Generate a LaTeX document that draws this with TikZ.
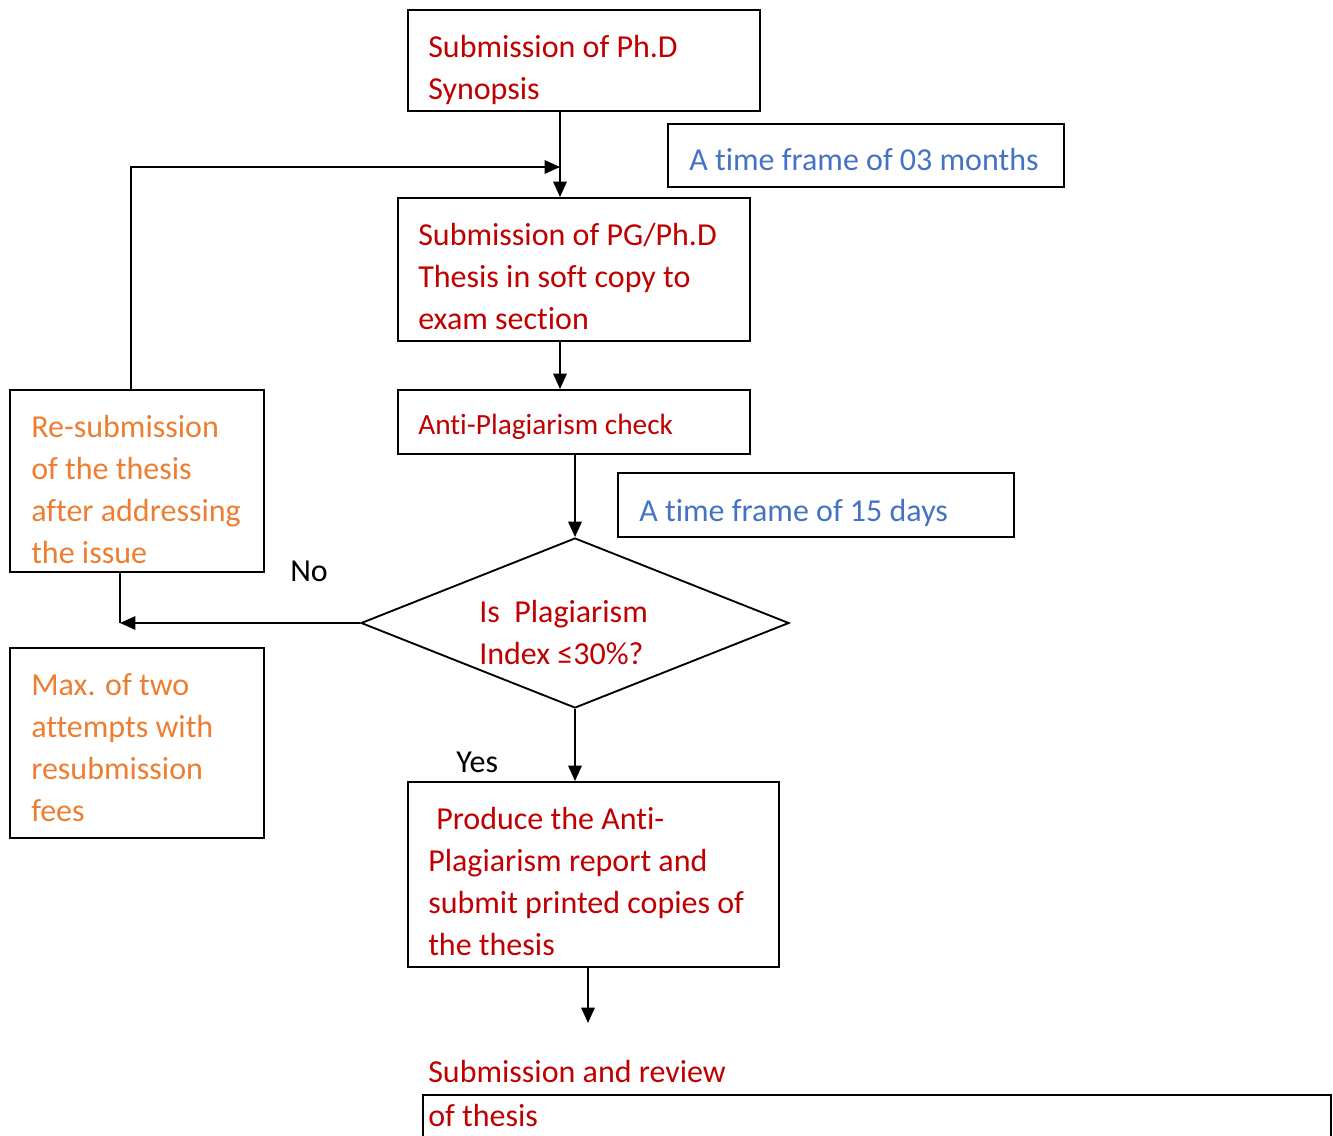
\documentclass[tikz,border=0pt]{standalone}
\usepackage{fontspec}
\setmainfont{Carlito}[RawFeature=-liga,RawFeature=-clig,RawFeature=-calt,RawFeature=-dlig]
\usetikzlibrary{arrows.meta,shapes.geometric,fit}
\definecolor{dred}{HTML}{C00000}
\definecolor{dblue}{HTML}{4472C4}
\definecolor{dorange}{HTML}{ED7D31}
\tikzset{
  box/.style={draw, line width=1.4pt, inner sep=0pt, rectangle},
  txt/.style={anchor=north west, inner sep=0pt, align=left, font=\fontsize{24}{31.5}\selectfont},
  arr/.style={line width=1.4pt, -{Triangle[length=11.5pt,width=10pt]}},
  plain/.style={line width=1.4pt},
}
\begin{document}
\begin{tikzpicture}[x=0.75pt,y=-0.75pt]
\useasboundingbox (0,0) rectangle (1333,1135);
\clip (0,0) rectangle (1333,1135);
% boxes
\node[box, fit={(408,10)(760,111)}] (b1) {};
\node[box, fit={(668,124)(1064,187)}] (bm) {};
\node[box, fit={(398,198)(750,341)}] (b2) {};
\node[box, fit={(398,390)(750,454)}] (b3) {};
\node[box, fit={(618,473)(1014,537)}] (bd) {};
\node[box, fit={(10,390)(264,572)}] (lb) {};
\node[box, fit={(10,648)(264,838)}] (mb) {};
\node[box, fit={(408,782)(779,967)}] (pb) {};
\node[box, fit={(423,1095)(1331,1160)}] (fb) {};
\node[draw, line width=1.4pt, diamond, inner sep=0pt, minimum width=321pt, minimum height=127.5pt] (d) at (575,623) {};
% texts (north = baseline - 29.4)
\node[txt, text=dred] (t1) at (428,28.1) {\strut Submission of Ph.D\\\strut Synopsis};
\node[txt, text=dblue] (tm) at (689,140.6) {\strut A time frame of 03 months};
\node[txt, text=dred] (t2) at (418,215.6) {\strut Submission of PG/Ph.D\\\strut Thesis in soft copy to\\\strut exam section};
\node[txt, text=dred, font=\fontsize{22}{31.5}\selectfont] (t3) at (418,405.1) {\strut Anti-Plagiarism check};
\node[txt, text=dblue] (td) at (639,491.6) {\strut A time frame of 15 days};
\node[txt, text=dorange] (tl) at (31,407.6) {\strut Re-submission\\\strut of the thesis\\\strut after addressing\\\strut the issue};
\node[txt] (tno) at (290,551.6) {\strut No};
\node[txt, text=dred] (tdi) at (479,592.6) {\strut Is\ \ Plagiarism\\\strut Index ≤30\%?};
\node[txt, text=dorange] (tmx) at (31,665.6) {\strut Max. of two\\\strut attempts with\\\strut resubmission\\\strut fees};
\node[txt] (tyes) at (456,742.6) {\strut Yes};
\node[txt, text=dred] (tp) at (428,799.6) {\strut\hspace*{0.25em}Produce the Anti-\\\strut Plagiarism report and\\\strut submit printed copies of\\\strut the thesis};
\node[txt, text=dred] (tsr) at (428,1052.6) {\strut Submission and review};
\node[txt, text=dred] (tof) at (428,1096.6) {\strut of thesis};
% coordinates
\coordinate (xa) at (560,167);
\coordinate (xl) at (131,0);
\coordinate (jn) at (120,623);
\coordinate (xe) at (588,1023);
% connectors
\draw[arr] (b1.south -| xa) -- (b2.north -| xa);
\draw[arr] (lb.north -| xl) |- (xa);
\draw[arr] (b2.south -| xa) -- (b3.north -| xa);
\draw[arr] (b3.south -| d.north) -- (d.north);
\draw[arr] (d.west) -- (jn);
\draw[plain] (lb.south -| jn) -- (jn);
\draw[arr] (d.south) -- (pb.north -| d.south);
\draw[arr] (pb.south -| xe) -- (xe);
\end{tikzpicture}
\end{document}
